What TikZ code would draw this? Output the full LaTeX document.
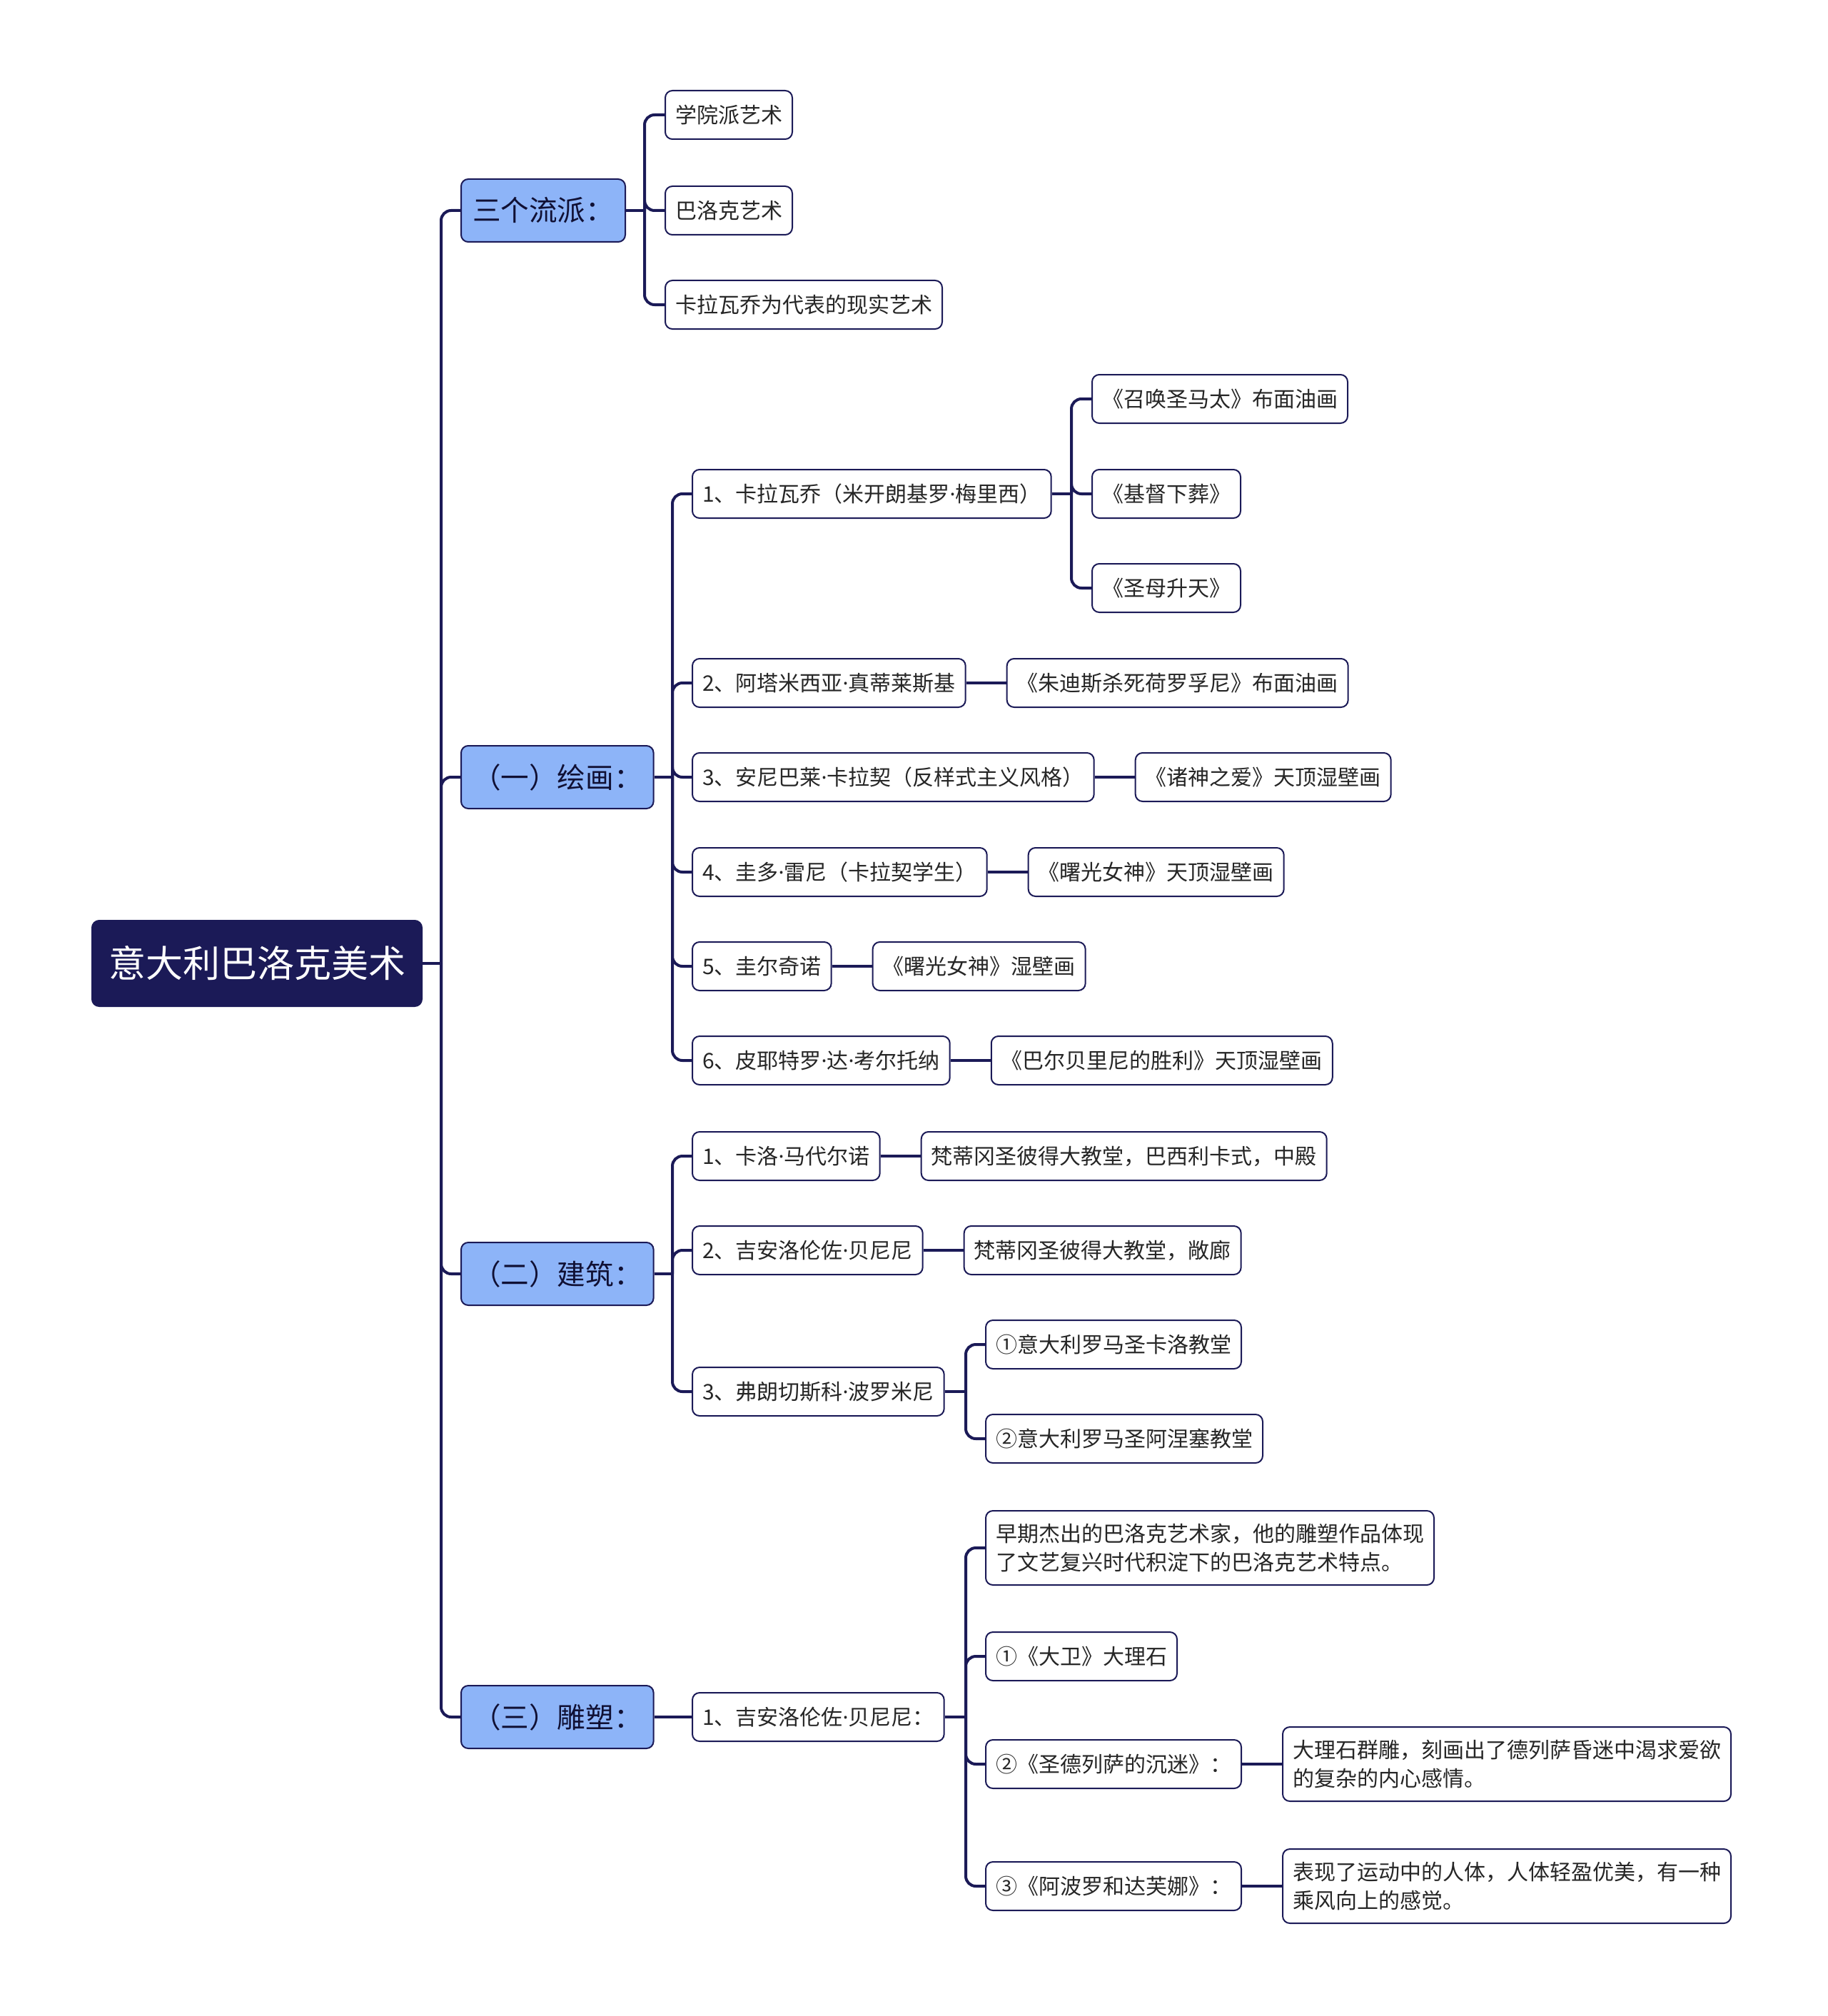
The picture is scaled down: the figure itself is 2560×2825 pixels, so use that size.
\documentclass[tikz,border=0pt]{standalone}
\usepackage{fontspec}
\setmainfont{Noto Sans CJK SC}
\newfontfamily\dotfont{Noto Sans}
\newcommand\mdot{{\dotfont ·}}
\usetikzlibrary{positioning}
\definecolor{inkblue}{HTML}{1B1A57}
\definecolor{skyfill}{HTML}{8DB4F8}
\tikzset{
  box/.style={draw=inkblue,line width=1pt,rounded corners=5pt,anchor=west,inner ysep=3pt},
  topic/.style={box,fill=inkblue,text=white,inner xsep=11.5pt,minimum height=60pt,font=\fontsize{26}{30}\selectfont},
  branch/.style={box,fill=skyfill,text=inkblue!60!black,inner xsep=8pt,minimum height=44pt,font=\fontsize{19.8}{24}\selectfont},
  leaf/.style={box,fill=white,text=black!85,inner xsep=7pt,minimum height=34pt,font=\fontsize{15}{19.8}\selectfont},
  note/.style={leaf,align=left,minimum height=52pt},
  link/.style={draw=inkblue,line width=2pt},
  elbow/.style={link,rounded corners=7pt}
}
\begin{document}
\begin{tikzpicture}[x=0.5pt,y=-0.5pt]
    \useasboundingbox (0,0) rectangle (2560,2825);
    \node[topic] (root) at (128,1350) {意大利巴洛克美术};
    \node[branch] (b1) at (645,295) {三个流派：};
    \node[branch] (b2) at (645,1089) {（一）绘画：};
    \node[branch] (b3) at (645,1785) {（二）建筑：};
    \node[branch] (b4) at (645,2406) {（三）雕塑：};

    \node[leaf] (s1) at (931,161) {学院派艺术};
    \node[leaf] (s2) at (931,295) {巴洛克艺术};
    \node[leaf] (s3) at (931,427) {卡拉瓦乔为代表的现实艺术};

    \node[leaf] (p1) at (969,692) {1、卡拉瓦乔（米开朗基罗\mdot 梅里西）};
    \node[leaf] (p2) at (969,957) {2、阿塔米西亚\mdot 真蒂莱斯基};
    \node[leaf] (p3) at (969,1089) {3、安尼巴莱\mdot 卡拉契（反样式主义风格）};
    \node[leaf] (p4) at (969,1222) {4、圭多\mdot 雷尼（卡拉契学生）};
    \node[leaf] (p5) at (969,1354) {5、圭尔奇诺};
    \node[leaf] (p6) at (969,1486) {6、皮耶特罗\mdot 达\mdot 考尔托纳};
    \node[leaf] (p1a) at (1529,559) {《召唤圣马太》布面油画};
    \node[leaf] (p1b) at (1529,692) {《基督下葬》};
    \node[leaf] (p1c) at (1529,824) {《圣母升天》};
    \node[leaf,right=28pt of p2] (p2a) {《朱迪斯杀死荷罗孚尼》布面油画};
    \node[leaf,right=28pt of p3] (p3a) {《诸神之爱》天顶湿壁画};
    \node[leaf,right=28pt of p4] (p4a) {《曙光女神》天顶湿壁画};
    \node[leaf,right=28pt of p5] (p5a) {《曙光女神》湿壁画};
    \node[leaf,right=28pt of p6] (p6a) {《巴尔贝里尼的胜利》天顶湿壁画};

    \node[leaf] (a1) at (969,1620) {1、卡洛\mdot 马代尔诺};
    \node[leaf] (a2) at (969,1752) {2、吉安洛伦佐\mdot 贝尼尼};
    \node[leaf] (a3) at (969,1950) {3、弗朗切斯科\mdot 波罗米尼};
    \node[leaf,right=28pt of a1] (a1a) {梵蒂冈圣彼得大教堂，巴西利卡式，中殿};
    \node[leaf,right=28pt of a2] (a2a) {梵蒂冈圣彼得大教堂，敞廊};
    \node[leaf] (a3a) at (1380,1884) {①意大利罗马圣卡洛教堂};
    \node[leaf] (a3b) at (1380,2016) {②意大利罗马圣阿涅塞教堂};

    \node[leaf] (c1) at (969,2406) {1、吉安洛伦佐\mdot 贝尼尼：};
    \node[note] (c1a) at (1380,2169) {早期杰出的巴洛克艺术家，他的雕塑作品体现\\了文艺复兴时代积淀下的巴洛克艺术特点。};
    \node[leaf] (c1b) at (1380,2321) {①《大卫》大理石};
    \node[leaf] (c1c) at (1380,2472) {②《圣德列萨的沉迷》：};
    \node[leaf] (c1d) at (1380,2643) {③《阿波罗和达芙娜》：};
    \node[note,right=28pt of c1c] (c1ca) {大理石群雕，刻画出了德列萨昏迷中渴求爱欲\\的复杂的内心感情。};
    \node[note,right=28pt of c1d] (c1da) {表现了运动中的人体，人体轻盈优美，有一种\\乘风向上的感觉。};

    \coordinate (jr) at (618,1350);
    \coordinate (jb1) at (903,295);
    \coordinate (jb2) at (942,1089);
    \coordinate (jb3) at (942,1785);
    \coordinate (jp1) at (1501,692);
    \coordinate (ja3) at (1353,1950);
    \coordinate (jc1) at (1353,2406);

    \draw[link] (root.east) -- (jr);
    \foreach \n in {b1,b2,b3,b4} \draw[elbow] (jr) |- (\n.west);
    \draw[link] (b1.east) -- (jb1);
    \foreach \n in {s1,s2,s3} \draw[elbow] (jb1) |- (\n.west);
    \draw[link] (b2.east) -- (jb2);
    \foreach \n in {p1,p2,p3,p4,p5,p6} \draw[elbow] (jb2) |- (\n.west);
    \draw[link] (p1.east) -- (jp1);
    \foreach \n in {p1a,p1b,p1c} \draw[elbow] (jp1) |- (\n.west);
    \foreach \n in {p2,p3,p4,p5,p6} \draw[link] (\n.east) -- (\n a.west);
    \draw[link] (b3.east) -- (jb3);
    \foreach \n in {a1,a2,a3} \draw[elbow] (jb3) |- (\n.west);
    \foreach \n in {a1,a2} \draw[link] (\n.east) -- (\n a.west);
    \draw[link] (a3.east) -- (ja3);
    \foreach \n in {a3a,a3b} \draw[elbow] (ja3) |- (\n.west);
    \draw[link] (b4.east) -- (c1.west);
    \draw[link] (c1.east) -- (jc1);
    \foreach \n in {c1a,c1b,c1c,c1d} \draw[elbow] (jc1) |- (\n.west);
    \foreach \n in {c1c,c1d} \draw[link] (\n.east) -- (\n a.west);
\end{tikzpicture}
\end{document}
